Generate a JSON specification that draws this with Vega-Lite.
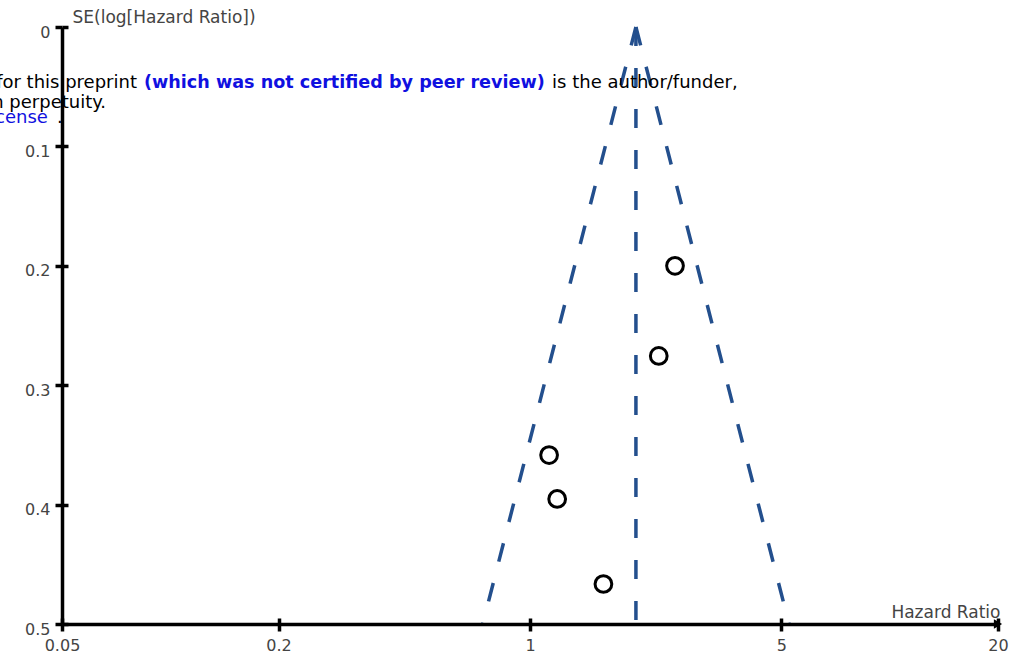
{
  "$schema": "https://vega.github.io/schema/vega-lite/v6.json",
  "width": 936,
  "height": 597,
  "autosize": {"type": "none"},
  "padding": {"left": 62, "top": 27, "right": 12, "bottom": 36},
  "background": "white",
  "config": {"view": {"stroke": null}, "font": "DejaVu Sans"},
  "datasets": {
    "funnel": [
      {"line": "pooled", "hr": 1.97, "se": 0, "step": 0},
      {"line": "pooled", "hr": 1.97, "se": 0.5, "step": 1},
      {"line": "lower", "hr": 1.97, "se": 0, "step": 0},
      {"line": "lower", "hr": 0.739, "se": 0.5, "step": 1},
      {"line": "upper", "hr": 1.97, "se": 0, "step": 0},
      {"line": "upper", "hr": 5.25, "se": 0.5, "step": 1}
    ],
    "studies": [
      {"hr": 2.53, "se": 0.2},
      {"hr": 2.28, "se": 0.2755},
      {"hr": 1.13, "se": 0.3585},
      {"hr": 1.19, "se": 0.3953},
      {"hr": 1.6, "se": 0.4665}
    ],
    "axisEnd": [{"hr": 20, "se": 0.5}],
    "noteClipped": [
      {"text": "for this preprint", "hr": 0.0808, "se": 0.0511},
      {"text": "in perpetuity.", "hr": 0.0663, "se": 0.0678}
    ],
    "noteBlack": [
      {"text": "is the author/funder,", "hr": 1.152, "se": 0.0511},
      {"text": ".", "hr": 0.0484, "se": 0.0804}
    ],
    "noteBlueBold": [
      {"text": "(which was not certified by peer review)", "hr": 0.0845, "se": 0.0511}
    ],
    "noteBlue": [
      {"text": "license", "hr": 0.0457, "se": 0.0804}
    ]
  },
  "layer": [
    {
      "data": {"name": "funnel"},
      "mark": {"type": "line", "color": "#234f8d", "strokeWidth": 3.5, "strokeDash": [19, 22]},
      "encoding": {
        "x": {
          "field": "hr", "type": "quantitative",
          "scale": {"type": "log", "domain": [0.05, 20], "nice": false, "zero": false},
          "axis": {
            "orient": "bottom", "values": [0.05, 0.2, 1, 5, 20], "format": "~g",
            "grid": false, "domainColor": "black", "domainWidth": 3.5,
            "tickColor": "black", "tickWidth": 3.5, "tickSize": 7,
            "labelColor": "#444", "labelFont": "DejaVu Sans", "labelFontSize": 16,
            "labelPadding": 6, "labelFlush": false, "labelOverlap": false, "labelBound": false,
            "title": "Hazard Ratio", "titleColor": "#444", "titleFont": "DejaVu Sans",
            "titleFontSize": 17, "titleFontWeight": "normal", "titleAlign": "right",
            "titleBaseline": "middle", "titleAnchor": "end", "titleX": 938, "titleY": -12,
            "zindex": 1
          }
        },
        "y": {
          "field": "se", "type": "quantitative",
          "scale": {"domain": [0, 0.5], "reverse": true, "nice": false, "zero": false},
          "axis": {
            "orient": "left", "values": [0, 0.1, 0.2, 0.3, 0.4, 0.5], "format": "~g",
            "grid": false, "domainColor": "black", "domainWidth": 3.5,
            "tickColor": "black", "tickWidth": 3.5, "tickSize": 7,
            "labelColor": "#444", "labelFont": "DejaVu Sans", "labelFontSize": 16,
            "labelPadding": 5, "labelOffset": 5, "labelFlush": false, "labelOverlap": false, "labelBound": false,
            "title": "SE(log[Hazard Ratio])", "titleColor": "#444", "titleFont": "DejaVu Sans",
            "titleFontSize": 17, "titleFontWeight": "normal", "titleAngle": 0,
            "titleAlign": "left", "titleBaseline": "middle", "titleX": 10, "titleY": -10,
            "zindex": 1
          }
        },
        "detail": {"field": "line", "type": "nominal"},
        "order": {"field": "step", "type": "quantitative"}
      }
    },
    {
      "data": {"name": "studies"},
      "mark": {"type": "point", "shape": "circle", "filled": false, "stroke": "black", "strokeWidth": 3, "size": 280, "opacity": 1},
      "encoding": {
        "x": {
          "field": "hr", "type": "quantitative",
          "axis": {
            "orient": "top", "offset": -597, "values": [0.05, 0.2, 1, 5, 20], "labels": false, "domain": false,
            "grid": false, "tickColor": "black", "tickWidth": 3.5, "tickSize": 6, "title": null, "zindex": 2
          }
        },
        "y": {
          "field": "se", "type": "quantitative",
          "axis": {
            "orient": "right", "offset": -936, "values": [0, 0.1, 0.2, 0.3, 0.4, 0.5], "labels": false, "domain": false,
            "grid": false, "tickColor": "black", "tickWidth": 3.5, "tickSize": 6, "title": null, "zindex": 2
          }
        }
      }
    },
    {
      "data": {"name": "axisEnd"},
      "mark": {"type": "point", "shape": "triangle-right", "filled": true, "color": "black", "size": 90, "opacity": 1},
      "encoding": {
        "x": {"field": "hr", "type": "quantitative", "axis": null},
        "y": {"field": "se", "type": "quantitative", "axis": null}
      }
    },
    {
      "data": {"name": "noteClipped"},
      "mark": {"type": "text", "align": "right", "baseline": "alphabetic", "font": "DejaVu Sans", "fontSize": 18, "color": "black"},
      "encoding": {
        "x": {"field": "hr", "type": "quantitative", "axis": null},
        "y": {"field": "se", "type": "quantitative", "axis": null},
        "text": {"field": "text"}
      }
    },
    {
      "data": {"name": "noteBlack"},
      "mark": {"type": "text", "align": "left", "baseline": "alphabetic", "font": "DejaVu Sans", "fontSize": 18, "color": "black"},
      "encoding": {
        "x": {"field": "hr", "type": "quantitative", "axis": null},
        "y": {"field": "se", "type": "quantitative", "axis": null},
        "text": {"field": "text"}
      }
    },
    {
      "data": {"name": "noteBlueBold"},
      "mark": {"type": "text", "align": "left", "baseline": "alphabetic", "font": "DejaVu Sans", "fontSize": 17.6, "fontWeight": "bold", "color": "#1010e0"},
      "encoding": {
        "x": {"field": "hr", "type": "quantitative", "axis": null},
        "y": {"field": "se", "type": "quantitative", "axis": null},
        "text": {"field": "text"}
      }
    },
    {
      "data": {"name": "noteBlue"},
      "mark": {"type": "text", "align": "right", "baseline": "alphabetic", "font": "DejaVu Sans", "fontSize": 18, "color": "#1010e0"},
      "encoding": {
        "x": {"field": "hr", "type": "quantitative", "axis": null},
        "y": {"field": "se", "type": "quantitative", "axis": null},
        "text": {"field": "text"}
      }
    }
  ],
  "resolve": {"axis": {"x": "independent", "y": "independent"}}
}
